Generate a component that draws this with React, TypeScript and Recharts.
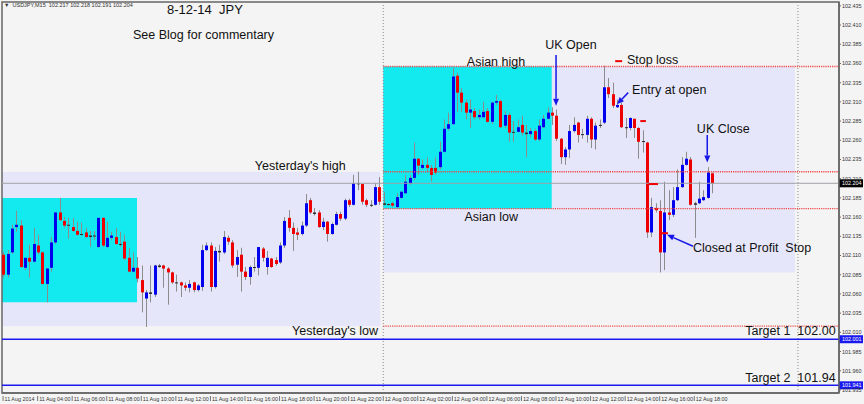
import React from 'react';
import {
  ComposedChart,
  Bar,
  XAxis,
  YAxis,
  ReferenceArea,
  ReferenceLine,
  ReferenceDot,
} from 'recharts';

// USDJPY M15, bar 0 = 11 Aug 02:00, one bar per 15 minutes
const OPEN = [
  102.111, 102.085, 102.114, 102.147, 102.149, 102.094, 102.107, 102.102, 102.123, 102.114,
  102.073, 102.094, 102.127, 102.166, 102.155, 102.15, 102.147, 102.142, 102.138, 102.14,
  102.136, 102.136, 102.121, 102.159, 102.121, 102.133, 102.134, 102.125, 102.128, 102.107,
  102.089, 102.094, 102.078, 102.054, 102.06, 102.059, 102.095, 102.097, 102.093, 102.088,
  102.075, 102.075, 102.071, 102.068, 102.075, 102.065, 102.069, 102.117, 102.123, 102.069,
  102.116, 102.114, 102.133, 102.127, 102.098, 102.111, 102.089, 102.082, 102.094, 102.094,
  102.119, 102.095, 102.106, 102.104, 102.101, 102.123, 102.159, 102.146, 102.14, 102.138,
  102.149, 102.182, 102.166, 102.166, 102.147, 102.154, 102.138, 102.15, 102.164, 102.158,
  102.182, 102.176, 102.204, 102.203, 102.182, 102.176, 102.176, 102.199, 102.178, 102.177,
  102.178, 102.173, 102.185, 102.191, 102.204, 102.211, 102.236, 102.224, 102.228, 102.224,
  102.224, 102.225, 102.245, 102.275, 102.281, 102.344, 102.322, 102.309, 102.296, 102.298,
  102.29, 102.29, 102.298, 102.284, 102.309, 102.311, 102.279, 102.293, 102.27, 102.271,
  102.28, 102.27, 102.268, 102.272, 102.261, 102.277, 102.288, 102.296, 102.292, 102.262,
  102.238, 102.248, 102.272, 102.283, 102.268, 102.267, 102.288, 102.261, 102.279, 102.283,
  102.329, 102.32, 102.303, 102.306, 102.277, 102.276, 102.288, 102.276, 102.259, 102.257,
  102.14, 102.172, 102.168, 102.114, 102.166, 102.163, 102.182, 102.199, 102.228, 102.235,
  102.178, 102.178, 102.182, 102.185, 102.217,
];
const HIGH = [
  102.115, 102.117, 102.15, 102.168, 102.156, 102.107, 102.124, 102.146, 102.137, 102.115,
  102.094, 102.134, 102.167, 102.185, 102.16, 102.159, 102.159, 102.154, 102.153, 102.146,
  102.142, 102.142, 102.159, 102.16, 102.154, 102.141, 102.146, 102.141, 102.137, 102.12,
  102.114, 102.108, 102.097, 102.065, 102.097, 102.098, 102.099, 102.098, 102.095, 102.089,
  102.085, 102.076, 102.075, 102.078, 102.076, 102.073, 102.124, 102.127, 102.127, 102.121,
  102.124, 102.142, 102.136, 102.13, 102.117, 102.12, 102.095, 102.097, 102.108, 102.121,
  102.121, 102.116, 102.107, 102.108, 102.127, 102.16, 102.169, 102.153, 102.146, 102.154,
  102.19, 102.185, 102.172, 102.169, 102.159, 102.155, 102.153, 102.167, 102.167, 102.184,
  102.184, 102.215, 102.219, 102.204, 102.184, 102.182, 102.204, 102.212, 102.193, 102.178,
  102.18, 102.191, 102.194, 102.215, 102.215, 102.257, 102.237, 102.235, 102.238, 102.228,
  102.238, 102.258, 102.287, 102.296, 102.354, 102.348, 102.328, 102.313, 102.313, 102.302,
  102.3, 102.31, 102.302, 102.31, 102.319, 102.313, 102.298, 102.296, 102.285, 102.287,
  102.292, 102.28, 102.276, 102.275, 102.287, 102.293, 102.303, 102.303, 102.3, 102.263,
  102.251, 102.28, 102.29, 102.284, 102.275, 102.292, 102.29, 102.283, 102.287, 102.357,
  102.341, 102.335, 102.313, 102.309, 102.289, 102.29, 102.288, 102.277, 102.273, 102.258,
  102.185, 102.178, 102.182, 102.206, 102.195, 102.199, 102.222, 102.238, 102.245, 102.238,
  102.18, 102.206, 102.195, 102.225, 102.218,
];
const LOW = [
  102.081, 102.081, 102.112, 102.141, 102.094, 102.091, 102.081, 102.101, 102.111, 102.072,
  102.049, 102.089, 102.125, 102.155, 102.146, 102.132, 102.141, 102.136, 102.136, 102.133,
  102.121, 102.13, 102.12, 102.121, 102.12, 102.13, 102.124, 102.121, 102.104, 102.088,
  102.088, 102.075, 102.036, 102.017, 102.049, 102.056, 102.094, 102.068, 102.046, 102.073,
  102.063, 102.056, 102.064, 102.062, 102.062, 102.063, 102.064, 102.116, 102.063, 102.067,
  102.102, 102.112, 102.124, 102.094, 102.082, 102.063, 102.078, 102.072, 102.089, 102.084,
  102.102, 102.085, 102.094, 102.097, 102.099, 102.12, 102.141, 102.116, 102.13, 102.136,
  102.147, 102.164, 102.162, 102.146, 102.143, 102.128, 102.137, 102.149, 102.155, 102.156,
  102.173, 102.175, 102.195, 102.176, 102.173, 102.173, 102.175, 102.176, 102.175, 102.175,
  102.173, 102.172, 102.184, 102.19, 102.202, 102.208, 102.215, 102.222, 102.219, 102.206,
  102.215, 102.222, 102.244, 102.273, 102.28, 102.297, 102.297, 102.287, 102.276, 102.287,
  102.287, 102.289, 102.283, 102.281, 102.306, 102.276, 102.276, 102.258, 102.258, 102.27,
  102.266, 102.238, 102.264, 102.259, 102.259, 102.276, 102.287, 102.28, 102.259, 102.229,
  102.228, 102.237, 102.27, 102.257, 102.262, 102.257, 102.25, 102.248, 102.276, 102.281,
  102.315, 102.302, 102.302, 102.276, 102.263, 102.273, 102.263, 102.236, 102.244, 102.133,
  102.134, 102.166, 102.088, 102.091, 102.156, 102.16, 102.181, 102.198, 102.227, 102.175,
  102.133, 102.177, 102.181, 102.184, 102.191,
];
const CLOSE = [
  102.085, 102.112, 102.145, 102.15, 102.095, 102.107, 102.102, 102.125, 102.114, 102.073,
  102.093, 102.127, 102.166, 102.156, 102.149, 102.149, 102.142, 102.137, 102.137, 102.134,
  102.134, 102.135, 102.159, 102.123, 102.133, 102.136, 102.125, 102.124, 102.106, 102.089,
  102.094, 102.08, 102.062, 102.062, 102.062, 102.097, 102.097, 102.093, 102.088, 102.075,
  102.074, 102.071, 102.068, 102.073, 102.065, 102.071, 102.117, 102.123, 102.069, 102.116,
  102.114, 102.134, 102.128, 102.097, 102.108, 102.089, 102.082, 102.095, 102.095, 102.121,
  102.107, 102.107, 102.095, 102.099, 102.123, 102.155, 102.146, 102.138, 102.137, 102.149,
  102.178, 102.166, 102.164, 102.147, 102.154, 102.138, 102.151, 102.164, 102.158, 102.182,
  102.176, 102.204, 102.203, 102.18, 102.176, 102.175, 102.199, 102.18, 102.176, 102.176,
  102.175, 102.186, 102.193, 102.206, 102.211, 102.236, 102.227, 102.228, 102.224, 102.215,
  102.218, 102.245, 102.275, 102.281, 102.343, 102.322, 102.309, 102.296, 102.3, 102.29,
  102.293, 102.297, 102.284, 102.309, 102.311, 102.277, 102.293, 102.27, 102.271, 102.277,
  102.27, 102.268, 102.272, 102.261, 102.279, 102.288, 102.296, 102.292, 102.262, 102.238,
  102.248, 102.272, 102.28, 102.267, 102.267, 102.288, 102.261, 102.279, 102.28, 102.329,
  102.32, 102.305, 102.306, 102.277, 102.276, 102.289, 102.276, 102.258, 102.258, 102.14,
  102.173, 102.169, 102.114, 102.166, 102.163, 102.182, 102.199, 102.228, 102.236, 102.176,
  102.176, 102.184, 102.186, 102.218, 102.204,
];

const TIME_TICKS = [0, 8, 16, 24, 32, 40, 48, 56, 64, 72, 80, 88, 96, 104, 112, 120, 128, 136, 144, 152, 160];
const TIME_LABELS = [
  '11 Aug 2014', '11 Aug 04:00', '11 Aug 06:00', '11 Aug 08:00', '11 Aug 10:00', '11 Aug 12:00',
  '11 Aug 14:00', '11 Aug 16:00', '11 Aug 18:00', '11 Aug 20:00', '11 Aug 22:00', '12 Aug 00:00',
  '12 Aug 02:00', '12 Aug 04:00', '12 Aug 06:00', '12 Aug 08:00', '12 Aug 10:00', '12 Aug 12:00',
  '12 Aug 14:00', '12 Aug 16:00', '12 Aug 18:00',
];
const PRICE_TICKS = [
  102.435, 102.41, 102.385, 102.36, 102.335, 102.31, 102.285, 102.26, 102.235, 102.21, 102.185,
  102.16, 102.135, 102.11, 102.085, 102.06, 102.035, 102.01, 101.985, 101.96, 101.935,
];

// session levels
const YDAY_HIGH = 102.219;
const YDAY_LOW = 102.018;
const ASIAN_HIGH = 102.356;
const ASIAN_LOW = 102.171;
const LAST_PRICE = 102.204;
const TARGET_1 = 102.001;
const TARGET_2 = 101.941;

const X_DOMAIN = [-0.25, 193.5];
const Y_DOMAIN = [101.931, 102.44];

const rows = OPEN.map((o, i) => ({
  i,
  open: o,
  high: HIGH[i],
  low: LOW[i],
  close: CLOSE[i],
  range: [LOW[i], HIGH[i]],
}));

const NB = '\u00a0';
const notes = [
  { text: "Yesterday's high", x: 68.8, y: 102.2214, anchor: 'middle' },
  { text: "Yesterday's low", x: 86.8, y: 102.0066, anchor: 'end' },
  { text: 'Asian high', x: 114.1, y: 102.357, anchor: 'middle' },
  { text: 'Asian low', x: 113.0, y: 102.155, anchor: 'middle' },
  { text: 'UK Open', x: 125.5, y: 102.379, anchor: 'start' },
  { text: 'Stop loss', x: 144.4, y: 102.359, anchor: 'start' },
  { text: 'Entry at open', x: 145.6, y: 102.32, anchor: 'start' },
  { text: 'UK Close', x: 160.6, y: 102.27, anchor: 'start' },
  { text: `Closed at Profit ${NB}Stop`, x: 159.7, y: 102.115, anchor: 'start' },
  { text: `Target 1 ${NB}102.00`, x: 171.8, y: 102.007, anchor: 'start' },
  { text: `Target 2 ${NB}101.94`, x: 171.8, y: 101.945, anchor: 'start' },
];

const arrows = [
  { from: [128.0, 102.371], to: [128.0, 102.305] },
  { from: [144.7, 102.322], to: [142.1, 102.307] },
  { from: [163.0, 102.267], to: [163.0, 102.231] },
  { from: [159.7, 102.122], to: [153.7, 102.137] },
];

const orderMarks = [
  { x1: 141.7, x2: 143.3, y: 102.363 },
  { x1: 147.5, x2: 148.8, y: 102.285 },
  { x1: 149.5, x2: 151.6, y: 102.203 },
  { x1: 152.5, x2: 153.9, y: 102.139 },
];

const FONT = '"Liberation Sans", Arial, sans-serif';
const DOTTED_RED = '#f04848';

function Candle(props: any) {
  const { x, y, width, height, payload } = props;
  if (!payload) return null;
  const { open, high, low, close } = payload;
  const top = Math.min(y, y + height);
  const h = Math.abs(height);
  const cx = Math.round(x + width / 2);
  const k = high > low ? h / (high - low) : 0;
  const yOf = (v: number) => top + (high - v) * k;
  const bTop = yOf(Math.max(open, close));
  const bBot = yOf(Math.min(open, close));
  const flat = Math.abs(close - open) < 0.002;
  const fill = flat ? '#2b2b2b' : close > open ? '#0000ee' : '#ee0000';
  return (
    <g>
      <line x1={cx + 0.5} x2={cx + 0.5} y1={top} y2={top + h} stroke="#8c8c8c" strokeWidth={1} />
      <rect x={cx - 1} y={bTop} width={3} height={Math.max(bBot - bTop, 1)} fill={fill} />
    </g>
  );
}

function TimeTick(props: any) {
  const { x, y, payload } = props;
  const idx = TIME_TICKS.indexOf(payload.value);
  return (
    <g>
      <line x1={x} x2={x} y1={y + 3} y2={y + 8} stroke="#555" strokeWidth={0.8} />
      <text x={x + 1.5} y={y + 7.6} fontSize={5.4} fill="#333" fontFamily={FONT}>
        {TIME_LABELS[idx]}
      </text>
    </g>
  );
}

function PriceTick(props: any) {
  const { x, y, payload } = props;
  return (
    <text x={x} y={y + 2} fontSize={5.4} fill="#333" fontFamily={FONT} textAnchor="start">
      {Number(payload.value).toFixed(3)}
    </text>
  );
}

function priceTag(bg: string, value: number) {
  return (props: any) => {
    const vb = props.viewBox || {};
    const x = vb.x + vb.width;
    const y = vb.y;
    return (
      <g>
        <rect x={x} y={y - 4} width={24} height={8} fill={bg} />
        <text x={x + 3} y={y + 2} fontSize={5.4} fill="#fff" fontFamily={FONT}>
          {value.toFixed(3)}
        </text>
      </g>
    );
  };
}

function Arrow(props: any) {
  const { x1, y1, x2, y2 } = props;
  const a = Math.atan2(y2 - y1, x2 - x1);
  const len = 7;
  const half = 3;
  const bx = x2 - len * Math.cos(a);
  const by = y2 - len * Math.sin(a);
  const p1 = `${bx + half * Math.sin(a)},${by - half * Math.cos(a)}`;
  const p2 = `${bx - half * Math.sin(a)},${by + half * Math.cos(a)}`;
  return (
    <g>
      <line x1={x1} y1={y1} x2={bx} y2={by} stroke="#1616e8" strokeWidth={1.5} />
      <polygon points={`${x2},${y2} ${p1} ${p2}`} fill="#1616e8" />
    </g>
  );
}

export default function App() {
  return (
    <div
      style={{
        position: 'absolute',
        left: 0,
        top: 0,
        width: 864,
        height: 404,
        background: '#f4f4f4',
        fontFamily: FONT,
        overflow: 'hidden',
      }}
    >
      <ComposedChart width={864} height={404} data={rows} margin={{ top: 2, right: 0, bottom: 0, left: 2 }}>
        <XAxis
          type="number"
          dataKey="i"
          domain={X_DOMAIN}
          allowDataOverflow
          ticks={TIME_TICKS}
          interval={0}
          tick={<TimeTick />}
          tickLine={false}
          tickSize={0}
          tickMargin={0}
          height={11}
          axisLine={{ stroke: '#666', strokeWidth: 1.5 }}
        />
        <YAxis
          orientation="right"
          type="number"
          domain={Y_DOMAIN}
          allowDataOverflow
          ticks={PRICE_TICKS}
          interval={0}
          width={25}
          tick={<PriceTick />}
          tickSize={2}
          tickMargin={1}
          tickLine={{ stroke: '#666' }}
          axisLine={{ stroke: '#666', strokeWidth: 1.5 }}
        />

        {/* yesterday's range and yesterday's Asian session */}
        <ReferenceArea x1={X_DOMAIN[0]} x2={87.3} y1={YDAY_LOW} y2={YDAY_HIGH} fill="#e6e6fa" fillOpacity={1} stroke="none" />
        <ReferenceArea x1={X_DOMAIN[0]} x2={31} y1={102.049} y2={102.185} fill="#12eaf0" fillOpacity={1} stroke="none" />
        {/* today's range and Asian session */}
        <ReferenceArea x1={88} x2={183.3} y1={102.088} y2={ASIAN_HIGH} fill="#e6e6fa" fillOpacity={1} stroke="none" />
        <ReferenceArea x1={88} x2={127} y1={ASIAN_LOW} y2={ASIAN_HIGH} fill="#12eaf0" fillOpacity={1} stroke="none" />

        <ReferenceLine x={88} stroke="#8a8a8a" strokeDasharray="1 2" />
        <ReferenceLine x={184} stroke="#8a8a8a" strokeDasharray="1 2" />

        <ReferenceLine segment={[{ x: 88, y: ASIAN_HIGH }, { x: X_DOMAIN[1], y: ASIAN_HIGH }]} stroke={DOTTED_RED} strokeWidth={1.4} strokeDasharray="1.2 1" />
        <ReferenceLine segment={[{ x: 88, y: YDAY_HIGH }, { x: X_DOMAIN[1], y: YDAY_HIGH }]} stroke={DOTTED_RED} strokeWidth={1.4} strokeDasharray="1.2 1" />
        <ReferenceLine segment={[{ x: 88, y: ASIAN_LOW }, { x: X_DOMAIN[1], y: ASIAN_LOW }]} stroke={DOTTED_RED} strokeWidth={1.4} strokeDasharray="1.2 1" />
        <ReferenceLine segment={[{ x: 88, y: YDAY_LOW }, { x: X_DOMAIN[1], y: YDAY_LOW }]} stroke={DOTTED_RED} strokeWidth={1.4} strokeDasharray="1.2 1" />

        <ReferenceLine y={LAST_PRICE} stroke="#a0a0a8" label={priceTag('#000', LAST_PRICE)} />
        <ReferenceLine y={TARGET_1} stroke="#1a1af0" strokeWidth={1.5} label={priceTag('#1a1af0', TARGET_1)} />
        <ReferenceLine y={TARGET_2} stroke="#1a1af0" strokeWidth={1.5} label={priceTag('#1a1af0', TARGET_2)} />

        <ReferenceArea
          x1={X_DOMAIN[0]}
          x2={X_DOMAIN[1]}
          y1={Y_DOMAIN[0]}
          y2={Y_DOMAIN[1]}
          fill="none"
          fillOpacity={0}
          stroke="#666"
          strokeWidth={1.5}
        />

        <Bar dataKey="range" barSize={3} isAnimationActive={false} shape={(p: any) => <Candle {...p} />} />

        {orderMarks.map((m, k) => (
          <ReferenceLine
            key={`m${k}`}
            segment={[{ x: m.x1, y: m.y }, { x: m.x2, y: m.y }]}
            stroke="#f00000"
            strokeWidth={2}
          />
        ))}
        {arrows.map((a, k) => (
          <ReferenceLine
            key={`a${k}`}
            segment={[{ x: a.from[0], y: a.from[1] }, { x: a.to[0], y: a.to[1] }]}
            shape={(p: any) => <Arrow {...p} />}
          />
        ))}
        {notes.map((n, k) => (
          <ReferenceDot
            key={`n${k}`}
            x={n.x}
            y={n.y}
            r={0}
            shape={(p: any) => (
              <text x={p.cx} y={p.cy} fontSize={12.5} fill="#111" fontFamily={FONT} textAnchor={n.anchor}>
                {n.text}
              </text>
            )}
          />
        ))}
      </ComposedChart>

      <div style={{ position: 'absolute', left: 4, top: 2, fontSize: 5.5, color: '#333', whiteSpace: 'pre' }}>
        {'\u25BC  USDJPY,M15  102.217 102.218 102.191 102.204'}
      </div>
      <div style={{ position: 'absolute', left: 167, top: 2, fontSize: 13, color: '#111', whiteSpace: 'pre' }}>
        {'8-12-14  JPY'}
      </div>
      <div style={{ position: 'absolute', left: 133, top: 28, fontSize: 12.5, color: '#111', whiteSpace: 'pre' }}>
        See Blog for commentary
      </div>
    </div>
  );
}
